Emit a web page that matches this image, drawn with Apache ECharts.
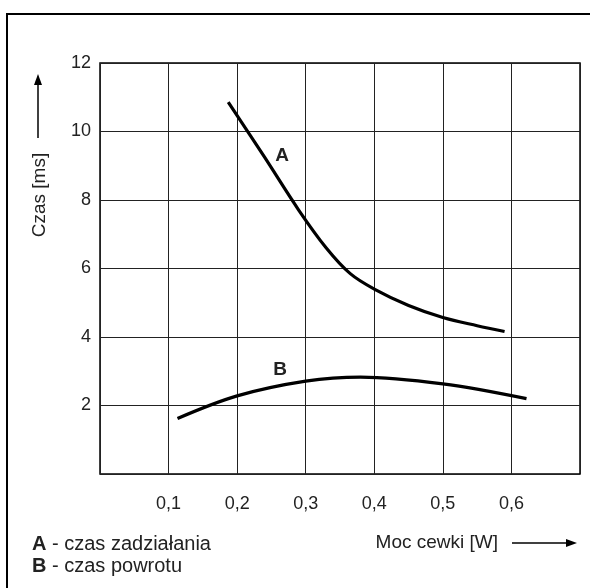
<!DOCTYPE html>
<html>
<head>
<meta charset="utf-8">
<script src="https://cdn.jsdelivr.net/npm/echarts@6/dist/echarts.min.js"></script>
<style>
  html, body { margin: 0; padding: 0; background: #fff; }
  #chart { width: 590px; height: 588px; }
</style>
</head>
<body>
<div id="chart"></div>
<script>
// values: [moc cewki W, czas ms]
const curveA = [
    [0.187, 10.86], [0.24, 9.25], [0.29, 7.7], [0.33, 6.6], [0.365, 5.85],
    [0.4, 5.4], [0.45, 4.92], [0.5, 4.57], [0.55, 4.33], [0.59, 4.16]
];
const curveB = [
    [0.113, 1.62], [0.2, 2.28], [0.3, 2.71], [0.38, 2.83],
    [0.5, 2.63], [0.622, 2.2]
];
const xTicks = [0.1, 0.2, 0.3, 0.4, 0.5, 0.6];
const xTickLabels = ['0,1', '0,2', '0,3', '0,4', '0,5', '0,6'];
const yTicks = [2, 4, 6, 8, 10, 12];
const yTickLabels = ['2', '4', '6', '8', '10', '12'];

const font = 'Liberation Sans';
const textColor = '#222';

function pickLabel(ticks, labels, v) {
    for (let i = 0; i < ticks.length; i++) {
        if (Math.abs(ticks[i] - v) < 1e-6) return labels[i];
    }
    return '';
}

function txt(x, y, text, size, extra) {
    return {
        type: 'text', x: x, y: y,
        style: Object.assign({
            text: text, fontSize: size, fontFamily: font, fill: textColor,
            align: 'center', verticalAlign: 'middle'
        }, extra || {})
    };
}

const chart = echarts.init(document.getElementById('chart'));

chart.setOption({
    animation: false,
    backgroundColor: '#fff',
    grid: {
        left: 100, top: 63, width: 480, height: 411,
        show: true, borderColor: '#000', borderWidth: 1.5,
        containLabel: false
    },
    xAxis: {
        type: 'value', min: 0, max: 0.7, interval: 0.1,
        axisLine: { show: false },
        axisTick: { show: false },
        splitLine: { lineStyle: { color: '#222', width: 1 } },
        axisLabel: {
            margin: 21, color: textColor, fontSize: 18, fontFamily: font,
            formatter: v => pickLabel(xTicks, xTickLabels, v)
        }
    },
    yAxis: {
        type: 'value', min: 0, max: 12, interval: 2,
        axisLine: { show: false },
        axisTick: { show: false },
        splitLine: { lineStyle: { color: '#222', width: 1 } },
        axisLabel: {
            margin: 9, color: textColor, fontSize: 18, fontFamily: font,
            formatter: v => pickLabel(yTicks, yTickLabels, v)
        }
    },
    series: [
        {
            name: 'A', type: 'line', data: curveA, smooth: 0.35,
            showSymbol: false, lineStyle: { color: '#000', width: 3.2 }
        },
        {
            name: 'B', type: 'line', data: curveB, smooth: 0.35,
            showSymbol: false, lineStyle: { color: '#000', width: 3.2 }
        }
    ],
    graphic: [
        // outer frame
        {
            type: 'rect', shape: { x: 7, y: 14, width: 700, height: 700 },
            style: { fill: 'none', stroke: '#000', lineWidth: 2 }, silent: true
        },
        // curve names
        txt(282, 156, 'A', 19, { fontWeight: 'bold' }),
        txt(280, 370, 'B', 19, { fontWeight: 'bold' }),
        // y axis name + arrow
        Object.assign(txt(40, 195, 'Czas [ms]', 19), { rotation: Math.PI / 2 }),
        {
            type: 'line', shape: { x1: 38, y1: 138, x2: 38, y2: 82 },
            style: { stroke: '#000', lineWidth: 1.5 }
        },
        {
            type: 'polygon', shape: { points: [[38, 74], [34, 85], [42, 85]] },
            style: { fill: '#000' }
        },
        // x axis name + arrow
        txt(498, 543, 'Moc cewki [W]', 19, { align: 'right' }),
        {
            type: 'line', shape: { x1: 512, y1: 543, x2: 568, y2: 543 },
            style: { stroke: '#000', lineWidth: 1.5 }
        },
        {
            type: 'polygon', shape: { points: [[577, 543], [566, 539], [566, 547]] },
            style: { fill: '#000' }
        },
        // legend
        txt(32, 544, '{b|A} - czas zadziałania', 20, {
            align: 'left',
            rich: { b: { fontWeight: 'bold', fontSize: 20, fontFamily: font, fill: textColor } }
        }),
        txt(32, 566, '{b|B} - czas powrotu', 20, {
            align: 'left',
            rich: { b: { fontWeight: 'bold', fontSize: 20, fontFamily: font, fill: textColor } }
        })
    ]
});
</script>
</body>
</html>
